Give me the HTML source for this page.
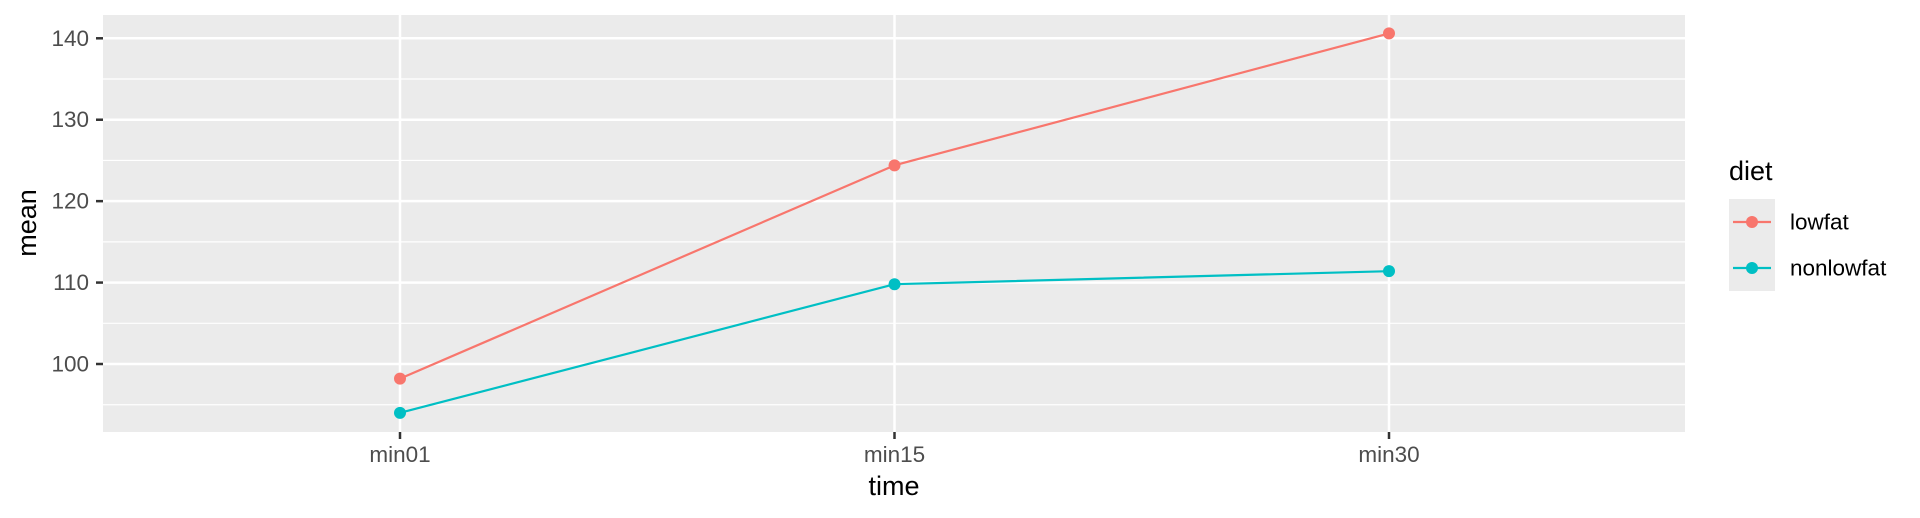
<!DOCTYPE html>
<html><head><meta charset="utf-8"><style>
html,body{margin:0;padding:0;background:#fff;}
svg{display:block;font-family:"Liberation Sans",Arial,sans-serif;}
</style></head><body>
<svg id="chart" width="1920" height="518" viewBox="0 0 1920 518">
<rect x="103" y="15" width="1582" height="417" fill="#ebebeb"/>
<g id="grid"></g>
<g id="series"></g>
<g id="axes"></g>
<text x="27" y="223" transform="rotate(-90 27 223)" text-anchor="middle" dominant-baseline="central" font-size="27" fill="#000">mean</text>
<text x="894" y="495" text-anchor="middle" font-size="27" fill="#000">time</text>
<g>
<text x="1729" y="180" font-size="27" fill="#000">diet</text>
<rect x="1729" y="199" width="46" height="92" fill="#ebebeb"/>
<g id="legend-items"></g>
</g>
</svg>
<script>
const categories = ["min01","min15","min30"];
const seriesNames = ["lowfat","nonlowfat"];
const lowfatValues = [98.2, 124.4, 140.6];
const nonlowfatValues = [94.0, 109.8, 111.4];
const yTickLabels = [100,110,120,130,140];
const yMinorTicks = [95,105,115,125,135];
const seriesColors = ["#F8766D","#00BFC4"];

const NS="http://www.w3.org/2000/svg";
const panel={x0:103,x1:1685,y0:15,y1:432};
const yMin=91.83, yMax=142.8;
function yScale(v){return 364-(v-100)*(364-38.3)/40;}
function xScale(i){return 400+i*(1389-400)/(categories.length-1);}
function mk(tag,attrs,parent){const e=document.createElementNS(NS,tag);for(const k in attrs)e.setAttribute(k,attrs[k]);parent.appendChild(e);return e;}
const grid=document.getElementById('grid'), axes=document.getElementById('axes'), series=document.getElementById('series'), leg=document.getElementById('legend-items');

yMinorTicks.forEach(v=>{const l=mk('line',{x1:panel.x0,x2:panel.x1,y1:yScale(v),y2:yScale(v),stroke:'#fff','stroke-width':1.2},grid);

});
yTickLabels.forEach(v=>{const y=yScale(v);
const l=mk('line',{x1:panel.x0,x2:panel.x1,y1:y,y2:y,stroke:'#fff','stroke-width':2.5},grid);


const t=mk('line',{x1:96,x2:103,y1:y,y2:y,stroke:'#333','stroke-width':2.5},axes);


const tx=mk('text',{x:89,y:y,'text-anchor':'end','dominant-baseline':'central','font-size':22.5,fill:'#4d4d4d'},axes);
tx.textContent=v;

});
categories.forEach((c,i)=>{const x=xScale(i);
const l=mk('line',{x1:x,x2:x,y1:panel.y0,y2:panel.y1,stroke:'#fff','stroke-width':2.5},grid);


const t=mk('line',{x1:x,x2:x,y1:432,y2:439,stroke:'#333','stroke-width':2.5},axes);


const tx=mk('text',{x:x,y:462,'text-anchor':'middle','font-size':22.5,fill:'#4d4d4d'},axes);
tx.textContent=c;

});
[lowfatValues,nonlowfatValues].forEach((vals,s)=>{
const p=mk('polyline',{points:vals.map((v,i)=>xScale(i)+','+yScale(v)).join(' '),fill:'none',stroke:seriesColors[s],'stroke-width':2.2},series);


vals.forEach((v,i)=>{const c=mk('circle',{cx:xScale(i),cy:yScale(v),r:6,fill:seriesColors[s]},series);

});
const ly=222+s*46;
const ll=mk('line',{x1:1733,x2:1771,y1:ly,y2:ly,stroke:seriesColors[s],'stroke-width':2.2},leg);


const lc=mk('circle',{cx:1752,cy:ly,r:6,fill:seriesColors[s]},leg);


const lt=mk('text',{x:1790,y:ly,'dominant-baseline':'central','font-size':22.5,fill:'#000'},leg);
lt.textContent=seriesNames[s];


});
</script>
</body></html>
